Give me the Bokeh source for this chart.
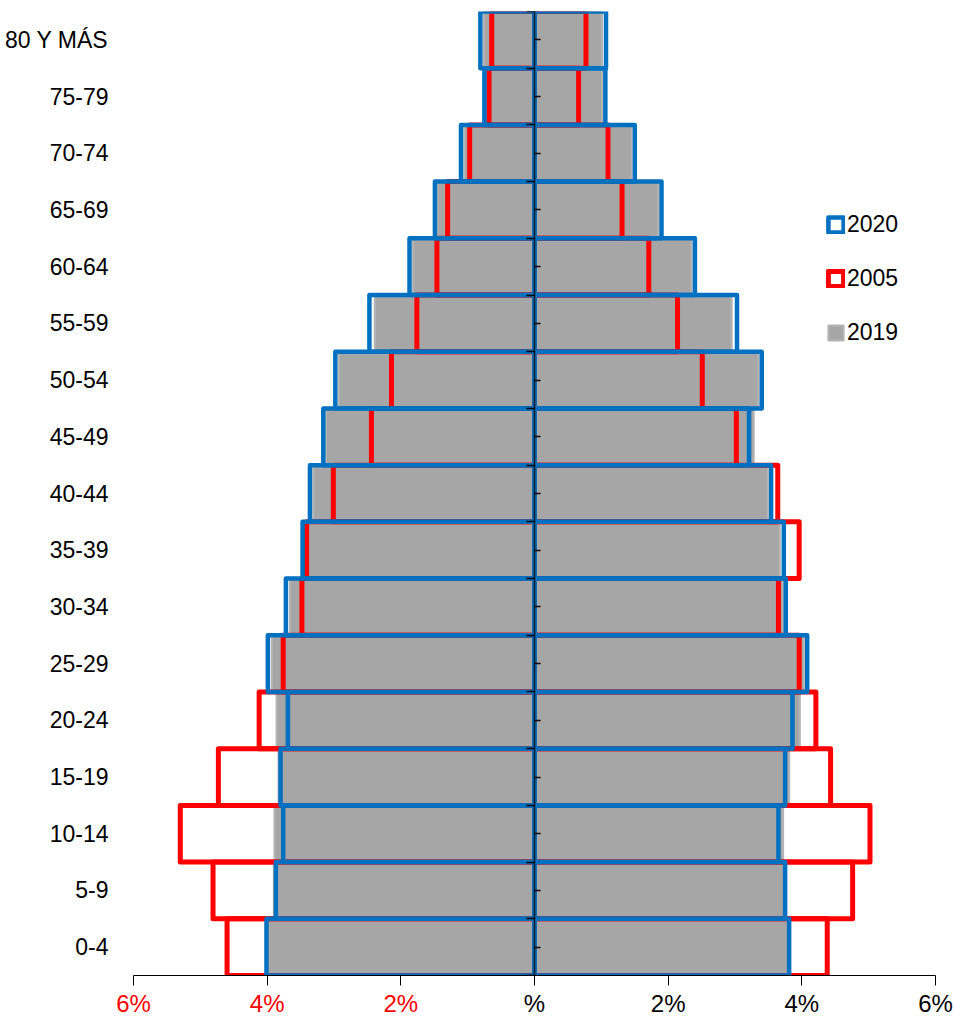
from bokeh.plotting import figure
from bokeh.models import (ColumnDataSource, Range1d, FixedTicker, Legend, LegendItem,
                          LinearAxis, CustomLabelingPolicy)
from bokeh.embed import file_html
from bokeh.resources import INLINE

# ---------------- data (bottom -> top) ----------------
ages = ["0-4", "5-9", "10-14", "15-19", "20-24", "25-29", "30-34", "35-39", "40-44",
        "45-49", "50-54", "55-59", "60-64", "65-69", "70-74", "75-79", "80 Y MÁS"]

men_2020 = [4.01, 3.87, 3.76, 3.80, 3.69, 3.99, 3.72, 3.47, 3.36, 3.16, 2.98, 2.47, 1.87, 1.49, 1.10, 0.75, 0.81]
women_2020 = [3.81, 3.75, 3.65, 3.75, 3.86, 4.08, 3.76, 3.73, 3.54, 3.21, 3.40, 3.03, 2.40, 1.90, 1.50, 1.06, 1.07]
men_2005 = [4.60, 4.81, 5.30, 4.73, 4.12, 3.76, 3.48, 3.41, 3.01, 2.44, 2.14, 1.76, 1.46, 1.30, 0.97, 0.68, 0.64]
women_2005 = [4.38, 4.76, 5.02, 4.43, 4.21, 3.96, 3.65, 3.96, 3.64, 3.02, 2.51, 2.14, 1.71, 1.31, 1.10, 0.66, 0.77]
men_2019 = [3.98, 3.90, 3.89, 3.83, 3.86, 3.93, 3.66, 3.44, 3.31, 3.12, 2.93, 2.39, 1.82, 1.45, 1.05, 0.74, 0.76]
women_2019 = [3.82, 3.76, 3.72, 3.81, 3.97, 4.03, 3.72, 3.67, 3.49, 3.28, 3.35, 2.95, 2.35, 1.85, 1.45, 1.01, 1.01]

x_ticks = [-6, -4, -2, 0, 2, 4, 6]
x_labels = ["6%", "4%", "2%", "%", "2%", "4%", "6%"]

# ---------------- styling ----------------
FONT = "'Liberation Sans', Arial, sans-serif"
BLUE = "#0070C0"
RED = "#FF0000"
GRAY = "#A6A6A6"

ypos = list(range(len(ages)))
src = ColumnDataSource(dict(
    y=ypos,
    m2020=[-v for v in men_2020], f2020=women_2020,
    m2005=[-v for v in men_2005], f2005=women_2005,
    m2019=[-v for v in men_2019], f2019=women_2019,
    zero=[0] * len(ages),
))

p = figure(width=954, height=1019, output_backend="svg", toolbar_location=None,
           x_range=Range1d(-6, 6), y_range=Range1d(-0.5, len(ages) - 0.5),
           min_border_left=133, min_border_right=19, min_border_top=11, min_border_bottom=44)
p.outline_line_color = None
p.xgrid.visible = False
p.ygrid.visible = False

# 2019 gray filled bars
g1 = p.hbar(y="y", left="m2019", right="zero", height=1.0, source=src,
            fill_color=GRAY, line_color="#B4B4B4", line_width=2)
p.hbar(y="y", left="zero", right="f2019", height=1.0, source=src,
       fill_color=GRAY, line_color="#B4B4B4", line_width=2)
# 2005 red outline bars
r1 = p.hbar(y="y", left="m2005", right="zero", height=1.0, source=src,
            fill_color=None, line_color=RED, line_width=5, line_join="round")
p.hbar(y="y", left="zero", right="f2005", height=1.0, source=src,
       fill_color=None, line_color=RED, line_width=5, line_join="round")
# 2020 blue outline bars
b1 = p.hbar(y="y", left="m2020", right="zero", height=1.0, source=src,
            fill_color=None, line_color=BLUE, line_width=4.5, line_join="round")
p.hbar(y="y", left="zero", right="f2020", height=1.0, source=src,
       fill_color=None, line_color=BLUE, line_width=4.5, line_join="round")

# y axis on the left (labels only)
p.yaxis.ticker = FixedTicker(ticks=ypos)
p.yaxis.major_label_overrides = {i: a for i, a in enumerate(ages)}
p.yaxis.axis_line_color = None
p.yaxis.major_tick_line_color = None
p.yaxis.minor_tick_line_color = None
p.yaxis.major_tick_out = 0
p.yaxis.major_label_standoff = 25
p.yaxis.major_label_text_font = FONT
p.yaxis.major_label_text_font_size = "23px"
p.yaxis.major_label_text_color = "black"

no_labels = CustomLabelingPolicy(code="for (const i of indices) { indices.unset(i) } return indices")

# central vertical axis at x = 0 (category boundaries = major ticks, centers = minor ticks)
bounds = [i - 0.5 for i in range(len(ages) + 1)]
center_axis = LinearAxis(fixed_location=0, ticker=FixedTicker(ticks=bounds, minor_ticks=ypos),
                         axis_line_color="#101820", axis_line_width=1.5,
                         major_tick_out=8, major_tick_in=0, major_tick_line_color="black",
                         major_tick_line_width=1.5,
                         minor_tick_out=0, minor_tick_in=6, minor_tick_line_color="black",
                         minor_tick_line_width=1.5,
                         major_label_policy=no_labels)
p.add_layout(center_axis, "left")

# x axis (black labels for the right half)
TICK_OUT = 10
STANDOFF = 4
FONT_PX = 24
LABEL_H = 30   # approx. height of a 24px label box
n_neg = sum(1 for t in x_ticks if t < 0)
p.xaxis.ticker = FixedTicker(ticks=x_ticks)
p.xaxis.major_label_overrides = {t: lab for t, lab in zip(x_ticks, x_labels)}
p.xaxis.major_label_policy = CustomLabelingPolicy(
    code="for (const i of indices) { if (i < %d) indices.unset(i) } return indices" % n_neg)
p.xaxis.axis_line_color = "black"
p.xaxis.axis_line_width = 1
p.xaxis.major_tick_line_color = "black"
p.xaxis.major_tick_out = TICK_OUT
p.xaxis.major_tick_in = 0
p.xaxis.minor_tick_line_color = None
p.xaxis.major_label_standoff = STANDOFF
p.xaxis.major_label_text_font = FONT
p.xaxis.major_label_text_font_size = "%dpx" % FONT_PX
p.xaxis.major_label_text_color = "black"

# second x axis (stacked below the first, pulled back up) for the red labels of the left half
red_axis = LinearAxis(ticker=FixedTicker(ticks=x_ticks),
                      major_label_overrides={t: lab for t, lab in zip(x_ticks, x_labels)},
                      major_label_policy=CustomLabelingPolicy(
                          code="for (const i of indices) { if (i >= %d) indices.unset(i) } return indices" % n_neg),
                      axis_line_color=None, major_tick_line_color=None, minor_tick_line_color=None,
                      major_tick_out=0, major_tick_in=0, minor_tick_out=0, minor_tick_in=0,
                      major_label_standoff=-LABEL_H, major_label_text_font=FONT,
                      major_label_text_font_size="%dpx" % FONT_PX, major_label_text_color=RED)
p.add_layout(red_axis, "below")

legend = Legend(items=[LegendItem(label="2020", renderers=[b1]),
                       LegendItem(label="2005", renderers=[r1]),
                       LegendItem(label="2019", renderers=[g1])],
                location=(693, 629), orientation="vertical",
                glyph_width=19, glyph_height=19, label_standoff=2, spacing=27,
                padding=0, margin=0, border_line_color=None, background_fill_alpha=0,
                label_text_font=FONT, label_text_font_size="23px", label_text_color="black")
p.add_layout(legend)

open("out.html", "w").write(file_html(p, INLINE))
